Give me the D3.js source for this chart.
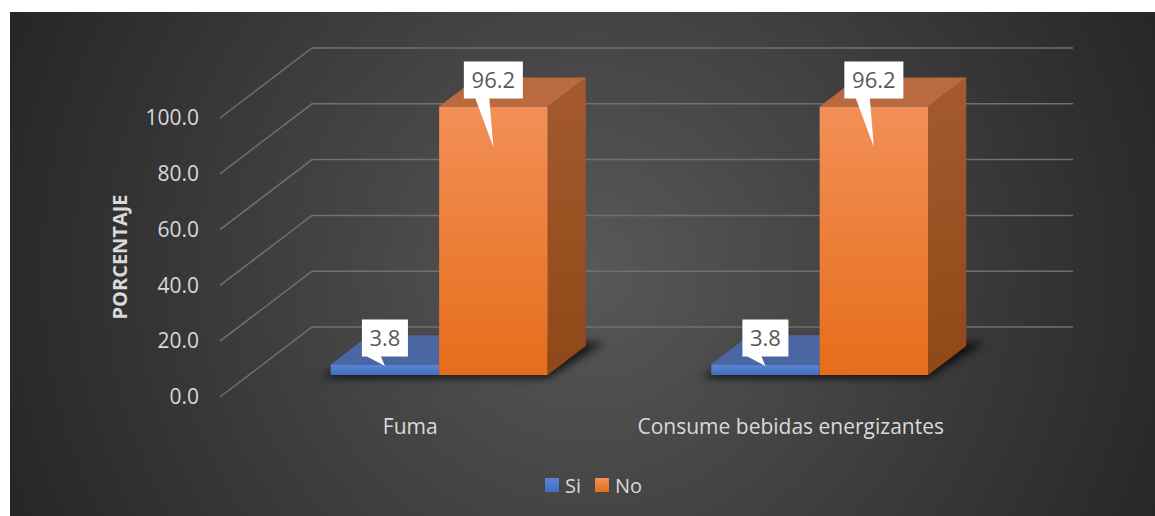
<!DOCTYPE html>
<html>
<head>
<meta charset="utf-8">
<script src="https://cdnjs.cloudflare.com/ajax/libs/d3/7.8.5/d3.min.js"></script>
<style>
  html, body { margin: 0; padding: 0; background: #ffffff; }
  svg { display: block; }
  text { font-family: "Open Sans", sans-serif; }
</style>
</head>
<body>
<div id="chart"></div>
<script>
// data
const categories = ["Fuma", "Consume bebidas energizantes"];
const seriesNames = ["Si", "No"];
const siValues = [3.8, 3.8];
const noValues = [96.2, 96.2];
const yTicks = [0, 20, 40, 60, 80, 100];

const W = 1155, H = 516;

// 3D floor geometry (front plane of the floor, depth offset to the back wall)
const floorY = 397;
const plotLeft = 220, plotRight = 981;
const depthDx = 92, depthDy = -70;
const zFront = 0.314, zBack = 0.729;

const svg = d3.select("#chart").append("svg")
  .attr("width", W).attr("height", H);

const defs = svg.append("defs");

const bg = defs.append("radialGradient").attr("id", "bg")
  .attr("gradientUnits", "userSpaceOnUse")
  .attr("cx", 590).attr("cy", 270).attr("r", 640);
bg.append("stop").attr("offset", "0%").attr("stop-color", "#585858");
bg.append("stop").attr("offset", "100%").attr("stop-color", "#252525");

function vGrad(id, c1, c2) {
  const g = defs.append("linearGradient").attr("id", id)
    .attr("x1", 0).attr("y1", 0).attr("x2", 0).attr("y2", 1);
  g.append("stop").attr("offset", "0%").attr("stop-color", c1);
  g.append("stop").attr("offset", "100%").attr("stop-color", c2);
}
vGrad("noFront", "#f38f57", "#e66d1a");
vGrad("noSide", "#a45a2d", "#8f4818");
vGrad("siFront", "#5b86d4", "#3f6dc0");

defs.append("filter").attr("id", "blur")
  .attr("x", "-20%").attr("y", "-50%").attr("width", "140%").attr("height", "200%")
  .append("feGaussianBlur").attr("stdDeviation", 4);

svg.append("rect")
  .attr("x", 10).attr("y", 12).attr("width", W - 10).attr("height", H - 12)
  .attr("fill", "url(#bg)");

// scales
const y = d3.scaleLinear().domain([0, 100]).range([0, 279]);
const x = d3.scaleBand().domain(categories).range([plotLeft, plotRight]);
const groupW = x.bandwidth() * 0.57;
const xs = d3.scaleBand().domain(seriesNames).range([0, groupW]);

function proj(px, v, z) {
  return [px + z * depthDx, floorY + z * depthDy - y(v)];
}

// walls: diagonal on the left side wall, horizontal on the back wall
const grid = svg.append("g");
yTicks.forEach(t => {
  const a = proj(plotLeft, t, 0), b = proj(plotLeft, t, 1), c = proj(plotRight, t, 1);
  grid.append("polyline")
    .attr("points", [a, b, c].map(p => p.join(",")).join(" "))
    .attr("fill", "none").attr("stroke", "#707070").attr("stroke-width", 1.5);
});

// y axis labels
const yAxisScale = d3.scaleLinear().domain([0, 100]).range([floorY, floorY - y(100)]);
const yAxis = svg.append("g")
  .attr("transform", "translate(199,0)")
  .call(d3.axisLeft(yAxisScale).tickValues(yTicks).tickFormat(d3.format(".1f")).tickSize(0).tickPadding(0));
yAxis.select(".domain").remove();
yAxis.selectAll("text")
  .attr("fill", "#d9d9d9").style("font-size", "21px").style("font-family", "Open Sans");

svg.append("text")
  .attr("transform", "translate(127,257) rotate(-90)")
  .attr("text-anchor", "middle")
  .attr("fill", "#d9d9d9").style("font-size", "20px").style("font-weight", "bold")
  .text("PORCENTAJE");

// bars
const bars = [];
categories.forEach((c, i) => {
  const g0 = x(c) + (x.bandwidth() - groupW) / 2;
  bars.push({ cat: c, s: "Si", v: siValues[i], x0: g0 + xs("Si"), w: xs.bandwidth() });
  bars.push({ cat: c, s: "No", v: noValues[i], x0: g0 + xs("No"), w: xs.bandwidth() });
});

// floor shadows
categories.forEach(c => {
  const bs = bars.filter(b => b.cat === c);
  const l = bs[0].x0, r = bs[bs.length - 1].x0 + bs[bs.length - 1].w;
  const pts = [proj(l - 6, 0, zFront - 0.04), proj(r + 4, 0, zFront - 0.04),
               proj(r + 14, 0, zBack + 0.05), proj(l + 6, 0, zBack + 0.05)];
  svg.append("polygon")
    .attr("points", pts.map(p => p.join(",")).join(" "))
    .attr("fill", "#000").attr("opacity", 0.75).attr("filter", "url(#blur)");
});

const colors = {
  Si: { front: "url(#siFront)", top: "#4a67a3", side: "#35558f" },
  No: { front: "url(#noFront)", top: "#b96a3e", side: "url(#noSide)" }
};

const barG = svg.append("g");
bars.forEach(b => {
  const col = colors[b.s];
  const fl = proj(b.x0, 0, zFront), fr = proj(b.x0 + b.w, 0, zFront);
  const tl = proj(b.x0, b.v, zFront), tr = proj(b.x0 + b.w, b.v, zFront);
  const btl = proj(b.x0, b.v, zBack), btr = proj(b.x0 + b.w, b.v, zBack);
  const bbr = proj(b.x0 + b.w, 0, zBack);
  barG.append("polygon").attr("points", [tr, btr, bbr, fr].map(p => p.join(",")).join(" "))
    .attr("fill", col.side);
  barG.append("polygon").attr("points", [tl, tr, btr, btl].map(p => p.join(",")).join(" "))
    .attr("fill", col.top);
  barG.append("rect")
    .attr("x", tl[0]).attr("y", tl[1]).attr("width", b.w).attr("height", fl[1] - tl[1])
    .attr("fill", col.front);
  b.frontTop = tl[1];
  b.cx = tl[0] + b.w / 2;
  b.hgt = fl[1] - tl[1];
});

// callout labels
const lab = svg.append("g");
bars.forEach(b => {
  const bw = b.s === "No" ? 59 : 46, bh = 37;
  const bottom = b.frontTop - 8, top = bottom - bh;
  const left = b.cx - bw / 2, right = b.cx + bw / 2;
  const tipY = b.frontTop + 0.15 * b.hgt;
  const path = d3.path();
  path.moveTo(left, top);
  path.lineTo(right, top);
  path.lineTo(right, bottom);
  path.lineTo(b.cx - 4, bottom);
  path.lineTo(b.cx, tipY);
  path.lineTo(b.cx - 18, bottom);
  path.lineTo(left, bottom);
  path.closePath();
  lab.append("path").attr("d", path.toString()).attr("fill", "#ffffff");
  lab.append("text")
    .attr("x", b.cx).attr("y", top + bh / 2 + 8)
    .attr("text-anchor", "middle")
    .attr("fill", "#595959").style("font-size", "22px")
    .text(d3.format(".1f")(b.v));
});

// category labels
svg.append("g").selectAll("text").data(categories).enter().append("text")
  .attr("x", d => x(d) + x.bandwidth() / 2)
  .attr("y", 434)
  .attr("text-anchor", "middle")
  .attr("fill", "#d9d9d9").style("font-size", "21px")
  .text(d => d);

// legend
const legend = svg.append("g");
const legendX = [545, 595];
seriesNames.forEach((s, i) => {
  legend.append("rect")
    .attr("x", legendX[i]).attr("y", 478).attr("width", 14).attr("height", 14)
    .attr("fill", s === "Si" ? "url(#siFront)" : "url(#noFront)");
  legend.append("text")
    .attr("x", legendX[i] + 20).attr("y", 493)
    .attr("fill", "#d9d9d9").style("font-size", "20px")
    .text(s);
});
</script>
</body>
</html>
